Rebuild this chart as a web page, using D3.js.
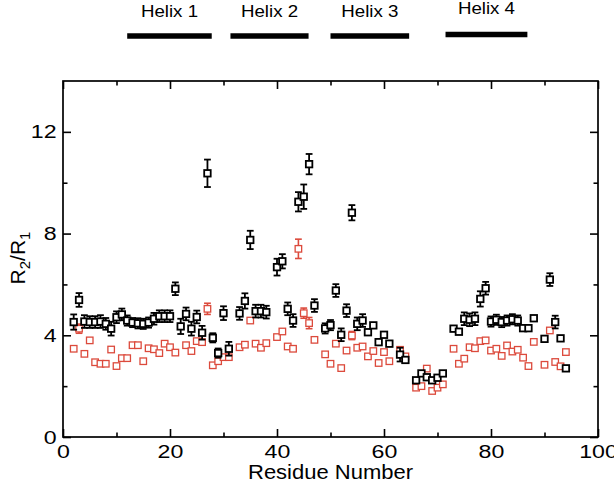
<!DOCTYPE html>
<html>
<head>
<meta charset="utf-8">
<script src="https://cdn.jsdelivr.net/npm/d3@7"></script>
<style>
  html, body { margin: 0; padding: 0; background: #fff; }
  svg { display: block; }
  text { font-family: "Liberation Sans", Arial, Helvetica, sans-serif; fill: #000; }
</style>
</head>
<body>
<svg id="chart" width="614" height="488"></svg>
<script>
// ---------------- data ----------------
const residues = [2,3,4,5,6,7,8,9,10,11,12,13,14,15,16,17,18,19,20,21,22,23,24,25,26,27,28,29,30,31,
  33,34,35,36,37,38,40,41,42,43,44,45,46,47,49,50,51,52,53,54,55,56,57,58,59,60,61,63,64,
  66,67,68,69,70,71,73,74,75,76,77,78,79,80,81,82,83,84,85,86,87,88,90,91,92,93,94];

const blackValues = [4.52,5.39,4.54,4.52,4.52,4.54,4.45,4.26,4.71,4.82,4.58,4.50,4.47,4.45,4.50,4.65,4.75,4.75,4.75,5.83,4.35,4.84,4.26,4.72,4.10,10.37,3.90,3.30,4.87,3.47,
  4.86,5.35,7.75,4.95,4.95,4.91,6.68,6.91,5.04,4.58,9.25,9.45,10.73,5.17,4.27,4.40,5.76,4.02,4.97,8.82,4.45,4.58,4.12,4.39,3.73,4.02,3.67,3.24,3.03,
  2.23,2.50,2.35,2.23,2.33,2.50,4.26,4.14,4.65,4.61,4.65,5.43,5.85,4.54,4.61,4.52,4.58,4.63,4.58,4.28,4.28,4.67,3.86,6.19,4.52,3.88,2.70];

const blackErrors = [0.3,0.27,0.25,0.23,0.23,0.25,0.23,0.27,0.23,0.23,0.2,0.18,0.2,0.2,0.2,0.23,0.23,0.23,0.23,0.25,0.3,0.25,0.27,0.25,0.27,0.54,0.18,0.18,0.27,0.27,
  0.25,0.3,0.36,0.25,0.25,0.25,0.33,0.28,0.25,0.25,0.38,0.48,0.4,0.25,0.2,0.2,0.25,0.25,0.25,0.3,0.25,0.25,0.1,0.1,0.1,0.1,0.1,0.27,0.1,
  0.08,0.08,0.08,0.08,0.08,0.08,0.1,0.1,0.25,0.25,0.25,0.3,0.25,0.2,0.2,0.2,0.2,0.2,0.2,0.1,0.1,0.1,0.1,0.25,0.25,0.1,0.08];

const redValues = [3.47,4.26,3.27,3.80,2.94,2.88,2.88,3.44,2.79,3.10,3.10,3.61,3.61,2.98,3.49,3.45,3.30,3.67,3.53,3.32,null,3.61,3.38,3.77,3.73,5.04,2.82,2.98,3.14,3.14,
  3.53,3.63,4.58,3.67,3.51,3.69,3.93,4.15,3.56,3.47,7.40,4.87,4.48,3.82,3.25,2.88,3.67,2.71,3.40,3.99,3.51,3.56,3.17,3.38,2.91,3.34,2.98,3.43,3.17,
  1.94,2.00,2.69,1.81,1.94,2.07,3.47,2.88,3.08,3.53,3.49,3.77,3.80,3.40,3.47,3.19,3.60,3.36,3.43,3.12,2.79,3.74,2.84,4.19,2.95,2.78,3.34];

const redErrors = [0.05,0.18,0.05,0.05,0.05,0.05,0.05,0.05,0.05,0.05,0.05,0.05,0.05,0.05,0.05,0.05,0.05,0.05,0.05,0.05,0,0.05,0.05,0.05,0.05,0.22,0.05,0.05,0.05,0.05,
  0.05,0.05,0.05,0.05,0.05,0.05,0.05,0.05,0.05,0.05,0.38,0.2,0.22,0.05,0.05,0.05,0.05,0.05,0.05,0.16,0.05,0.05,0.05,0.05,0.05,0.05,0.05,0.05,0.05,
  0.05,0.05,0.05,0.05,0.05,0.05,0.05,0.05,0.05,0.05,0.05,0.05,0.05,0.05,0.05,0.05,0.05,0.05,0.05,0.05,0.05,0.05,0.05,0.05,0.05,0.05,0.05];

const helixNames = ["Helix 1", "Helix 2", "Helix 3", "Helix 4"];
const helixStart = [12, 31.3, 50, 71.5];
const helixEnd = [27.8, 45.9, 64.7, 86.8];

const xMajorTicks = [0, 20, 40, 60, 80, 100];
const xMinorTicks = [10, 30, 50, 70, 90];
const yMajorTicks = [0, 4, 8, 12];
const yMinorTicks = [2, 6, 10];

const xTitle = "Residue Number";

// ---------------- layout ----------------
const svg = d3.select("#chart");
const L = 63, R = 598, T = 81, B = 437;
const x = d3.scaleLinear().domain([0, 100]).range([L, R]);
const y = d3.scaleLinear().domain([0, 14]).range([B, T]);
const SX = 1.22; // horizontal text stretch of the reference
const red = "#dc4a3c";

function styleAxis(g) {
  g.select(".domain").remove();
  g.selectAll(".tick line").attr("stroke", "#000").attr("stroke-width", 1.6);
  g.selectAll("text").attr("font-size", 19).attr("fill", "#000")
    .attr("font-family", '"Liberation Sans", Arial, Helvetica, sans-serif');
}
svg.append("g").attr("transform", `translate(0,${B})`)
  .call(d3.axisBottom(x).tickValues(xMajorTicks).tickSize(-8).tickPadding(8).tickFormat(d3.format("d")))
  .call(styleAxis)
  .call(g => g.selectAll("text").attr("transform", `scale(${SX},1)`));
svg.append("g").attr("transform", `translate(0,${B})`)
  .call(d3.axisBottom(x).tickValues(xMinorTicks).tickSize(-4.5).tickFormat(""))
  .call(styleAxis);
svg.append("g").attr("transform", `translate(0,${T})`)
  .call(d3.axisTop(x).tickValues(xMajorTicks).tickSize(-8).tickFormat(""))
  .call(styleAxis);
svg.append("g").attr("transform", `translate(0,${T})`)
  .call(d3.axisTop(x).tickValues(xMinorTicks).tickSize(-4.5).tickFormat(""))
  .call(styleAxis);
svg.append("g").attr("transform", `translate(${L},0)`)
  .call(d3.axisLeft(y).tickValues(yMajorTicks).tickSize(-8).tickPadding(5.3).tickFormat(d3.format("d")))
  .call(styleAxis)
  .call(g => g.selectAll("text").attr("transform", `scale(${SX},1)`));
svg.append("g").attr("transform", `translate(${L},0)`)
  .call(d3.axisLeft(y).tickValues(yMinorTicks).tickSize(-4.5).tickFormat(""))
  .call(styleAxis);
svg.append("g").attr("transform", `translate(${R},0)`)
  .call(d3.axisRight(y).tickValues(yMajorTicks).tickSize(-8).tickFormat(""))
  .call(styleAxis);
svg.append("g").attr("transform", `translate(${R},0)`)
  .call(d3.axisRight(y).tickValues(yMinorTicks).tickSize(-4.5).tickFormat(""))
  .call(styleAxis);

// frame
svg.append("rect").attr("x", L).attr("y", T).attr("width", R - L).attr("height", B - T)
  .attr("fill", "none").attr("stroke", "#000").attr("stroke-width", 1.7);

// axis titles
svg.append("text").attr("transform", `translate(${(L + R) / 2},479) scale(1.1,1)`)
  .attr("text-anchor", "middle").attr("font-size", 20).text(xTitle);

const yl = svg.append("text").attr("transform", `translate(25,258) rotate(-90)`)
  .attr("text-anchor", "middle").attr("font-size", 21);
yl.append("tspan").text("R");
yl.append("tspan").attr("font-size", 15).attr("dy", 5).text("2");
yl.append("tspan").attr("dy", -5).text("/R");
yl.append("tspan").attr("font-size", 15).attr("dy", 5).text("1");

// helices
const hel = svg.append("g");
helixNames.forEach((name, i) => {
  const yy = i === 3 ? 34.5 : 36;
  hel.append("line").attr("x1", x(helixStart[i])).attr("x2", x(helixEnd[i]))
    .attr("y1", yy).attr("y2", yy).attr("stroke", "#000").attr("stroke-width", 5.5);
  hel.append("text")
    .attr("transform", `translate(${(x(helixStart[i]) + x(helixEnd[i])) / 2},${i === 3 ? 14 : 17}) scale(1.1,1)`)
    .attr("text-anchor", "middle").attr("font-size", 17).text(name);
});

// series
const S = 6.5;
function drawSeries(vals, errs, color, sw, ew) {
  const data = residues.map((r, i) => ({ r, v: vals[i], e: errs[i] })).filter(d => d.v != null);
  const g = svg.append("g");
  const eb = g.append("g").attr("stroke", color).attr("stroke-width", ew);
  data.filter(d => y(d.v - d.e) - y(d.v + d.e) > S).forEach(d => {
    const cx = x(d.r);
    eb.append("line").attr("x1", cx).attr("x2", cx).attr("y1", y(d.v + d.e)).attr("y2", y(d.v - d.e));
    eb.append("line").attr("x1", cx - 3.4).attr("x2", cx + 3.4).attr("y1", y(d.v + d.e)).attr("y2", y(d.v + d.e));
    eb.append("line").attr("x1", cx - 3.4).attr("x2", cx + 3.4).attr("y1", y(d.v - d.e)).attr("y2", y(d.v - d.e));
  });
  g.selectAll("rect.pt").data(data).join("rect").attr("class", "pt")
    .attr("x", d => x(d.r) - S / 2).attr("y", d => y(d.v) - S / 2)
    .attr("width", S).attr("height", S)
    .attr("fill", "#fff").attr("stroke", color).attr("stroke-width", sw);
}
drawSeries(redValues, redErrors, red, 1.3, 1.6);
drawSeries(blackValues, blackErrors, "#000", 1.8, 1.8);
</script>
</body>
</html>
